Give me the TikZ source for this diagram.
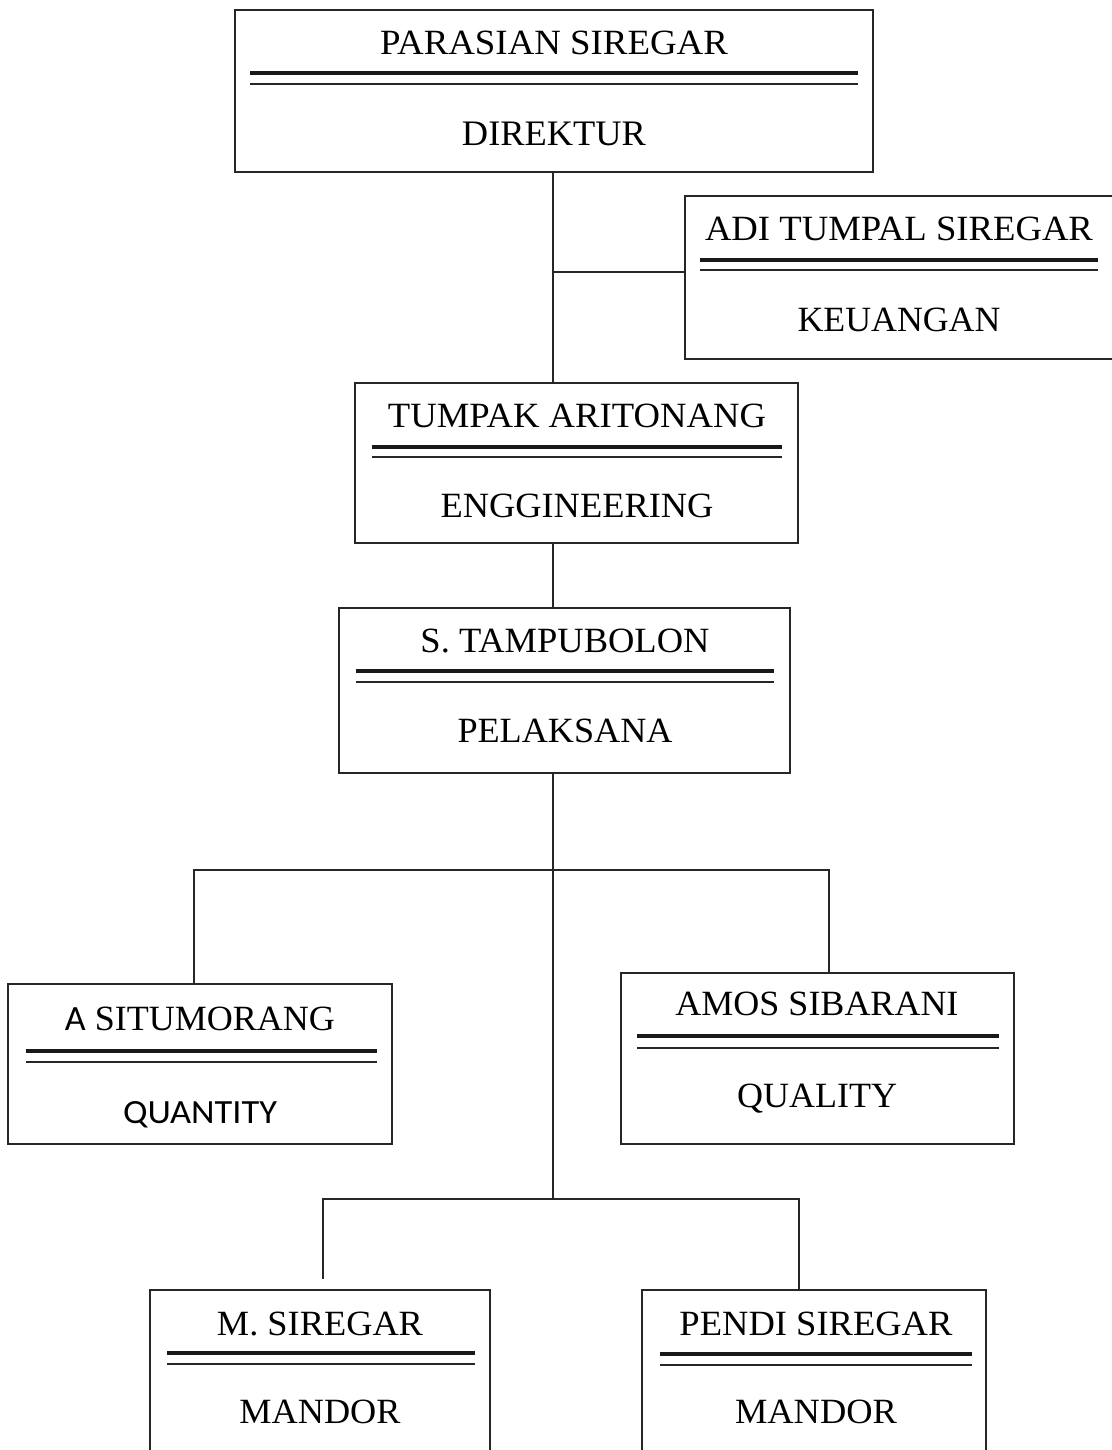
\documentclass[tikz,border=0pt]{standalone}
\usepackage{fontspec}
\setmainfont{Liberation Serif}
\newfontfamily\carlito{Carlito}
\usepackage{graphicx}
\usetikzlibrary{fit}
\newcommand\fw[3][11.75pt]{\resizebox{#2}{#1}{#3}}
\tikzset{
  orgbox/.style={draw=black!85, line width=1pt, inner sep=0pt},
  lbl/.style={anchor=base, inner sep=0pt},
  thickrule/.style={line width=2pt, black!90},
  thinrule/.style={line width=1pt, black!85},
  conn/.style={line width=0.9pt, black!85},
}
\begin{document}
\begin{tikzpicture}[x=0.5pt,y=-0.5pt]
\useasboundingbox (0,0) rectangle (1112,1450);
\clip (0,0) rectangle (1112,1450);
\fill[white] (0,0) rectangle (1112,1450);

% ---- boxes ----
\node[orgbox, fit={(235,10) (873,172)}] (dir) {};
\node[orgbox, fit={(685,196) (1116,359)}] (adi) {};
\node[orgbox, fit={(355,383) (798,543)}] (tum) {};
\node[orgbox, fit={(339,608) (790,773)}] (tam) {};
\node[orgbox, fit={(8,984) (392,1144)}] (sit) {};
\node[orgbox, fit={(621,973) (1014,1144)}] (amos) {};
\node[orgbox, fit={(150,1290) (490,1470)}] (msi) {};
\node[orgbox, fit={(642,1290) (986,1470)}] (pen) {};

% ---- texts ----
\node[lbl] (dirN) at (554,55) {\fw{174pt}{PARASIAN SIREGAR}};
\node[lbl] (dirT) at (554,145) {\fw{92pt}{DIREKTUR}};
\node[lbl] (adiN) at (899,240) {\fw{194pt}{ADI TUMPAL SIREGAR}};
\node[lbl] (adiT) at (899,331) {\fw{101.5pt}{KEUANGAN}};
\node[lbl] (tumN) at (577,427) {\fw{189pt}{TUMPAK ARITONANG}};
\node[lbl] (tumT) at (577,517) {\fw{136.5pt}{ENGGINEERING}};
\node[lbl] (tamN) at (565,652) {\fw{144.5pt}{S. TAMPUBOLON}};
\node[lbl] (tamT) at (565,742) {\fw{107.5pt}{PELAKSANA}};
\node[lbl] (sitN) at (200,1030) {\fw{135pt}{{\carlito A} SITUMORANG}};
\node[lbl] (sitT) at (200,1123) {\fw[11pt]{77pt}{\carlito QUANTITY}};
\node[lbl] (amosN) at (817,1015) {\fw{141.5pt}{AMOS SIBARANI}};
\node[lbl] (amosT) at (817,1107) {\fw{80pt}{QUALITY}};
\node[lbl] (msiN) at (320,1335) {\fw{103pt}{M. SIREGAR}};
\node[lbl] (msiT) at (320,1423) {\fw{80.5pt}{MANDOR}};
\node[lbl] (penN) at (816,1335) {\fw{136.5pt}{PENDI SIREGAR}};
\node[lbl] (penT) at (816,1423) {\fw{81pt}{MANDOR}};

% ---- double rules ----
\draw[thickrule] (250,73) -- (858,73);   \draw[thinrule] (250,84) -- (858,84);
\draw[thickrule] (700,260) -- (1098,260); \draw[thinrule] (700,270) -- (1098,270);
\draw[thickrule] (372,447) -- (782,447);  \draw[thinrule] (372,457) -- (782,457);
\draw[thickrule] (356,671) -- (774,671);  \draw[thinrule] (356,682) -- (774,682);
\draw[thickrule] (26,1051) -- (377,1051); \draw[thinrule] (26,1062) -- (377,1062);
\draw[thickrule] (637,1036) -- (999,1036); \draw[thinrule] (637,1048) -- (999,1048);
\draw[thickrule] (167,1353) -- (475,1353); \draw[thinrule] (167,1364) -- (475,1364);
\draw[thickrule] (660,1354) -- (972,1354); \draw[thinrule] (660,1365) -- (972,1365);

% ---- connectors ----
\coordinate (sp1) at (553,272);
\coordinate (j3) at (553,1199);
\coordinate (jl) at (194,870);
\coordinate (jr) at (829,870);
\coordinate (kl) at (323,1199);
\coordinate (kr) at (799,1199);
\coordinate (kle) at (323,1279);
\draw[conn] (dir.south -| sp1) -- (sp1 |- tum.north);
\draw[conn] (sp1) -- (sp1 -| adi.west);
\draw[conn] (tum.south -| sp1) -- (sp1 |- tam.north);
\draw[conn] (tam.south -| sp1) -- (j3);
\draw[conn] (jl |- sit.north) -- (jl) -- (jr) -- (jr |- amos.north);
\draw[conn] (kle) -- (kl) -- (kr) -- (kr |- pen.north);
\end{tikzpicture}
\end{document}
